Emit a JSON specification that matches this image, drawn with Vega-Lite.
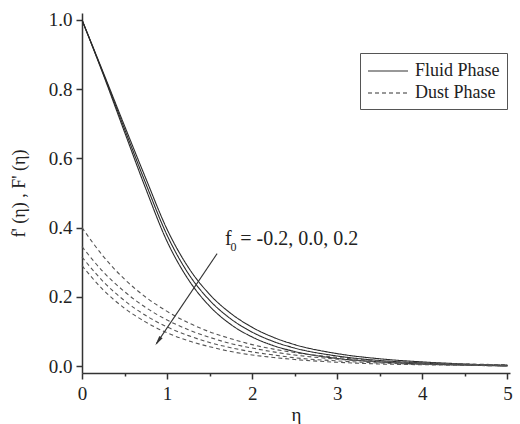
{
  "$schema": "https://vega.github.io/schema/vega-lite/v6.json",
  "width": 428,
  "height": 360,
  "autosize": {"type": "none"},
  "padding": {"left": 82, "top": 13, "right": 10, "bottom": 51},
  "background": "white",
  "config": {
    "font": "Liberation Serif",
    "axis": {"labelFont": "Liberation Serif", "titleFont": "Liberation Serif"},
    "legend": {"labelFont": "Liberation Serif", "titleFont": "Liberation Serif"},
    "text": {"font": "Liberation Serif"},
    "view": {"stroke": null},
    "line": {"color": "#2a2a2a", "strokeWidth": 1.1, "interpolate": "monotone"}
  },
  "datasets": {
    "curves": [
      {"eta": 0, "F1": 1.0, "F2": 1.0, "F3": 1.0, "D1": 0.4, "D2": 0.345, "D3": 0.315, "D4": 0.29},
      {"eta": 0.25, "F1": 0.848, "F2": 0.845, "F3": 0.842, "D1": 0.317, "D2": 0.272, "D3": 0.244, "D4": 0.22},
      {"eta": 0.5, "F1": 0.694, "F2": 0.685, "F3": 0.676, "D1": 0.251, "D2": 0.215, "D3": 0.189, "D4": 0.167},
      {"eta": 0.75, "F1": 0.542, "F2": 0.527, "F3": 0.512, "D1": 0.199, "D2": 0.169, "D3": 0.146, "D4": 0.127},
      {"eta": 1.0, "F1": 0.395, "F2": 0.378, "F3": 0.36, "D1": 0.158, "D2": 0.133, "D3": 0.113, "D4": 0.096},
      {"eta": 1.25, "F1": 0.285, "F2": 0.267, "F3": 0.25, "D1": 0.125, "D2": 0.105, "D3": 0.088, "D4": 0.073},
      {"eta": 1.5, "F1": 0.207, "F2": 0.19, "F3": 0.173, "D1": 0.099, "D2": 0.083, "D3": 0.068, "D4": 0.056},
      {"eta": 1.75, "F1": 0.152, "F2": 0.136, "F3": 0.12, "D1": 0.079, "D2": 0.065, "D3": 0.053, "D4": 0.042},
      {"eta": 2.0, "F1": 0.112, "F2": 0.098, "F3": 0.084, "D1": 0.062, "D2": 0.052, "D3": 0.041, "D4": 0.032},
      {"eta": 2.25, "F1": 0.083, "F2": 0.071, "F3": 0.059, "D1": 0.049, "D2": 0.041, "D3": 0.032, "D4": 0.025},
      {"eta": 2.5, "F1": 0.062, "F2": 0.052, "F3": 0.042, "D1": 0.039, "D2": 0.032, "D3": 0.024, "D4": 0.019},
      {"eta": 3.0, "F1": 0.036, "F2": 0.029, "F3": 0.022, "D1": 0.025, "D2": 0.02, "D3": 0.015, "D4": 0.011},
      {"eta": 3.5, "F1": 0.021, "F2": 0.016, "F3": 0.012, "D1": 0.015, "D2": 0.012, "D3": 0.009, "D4": 0.006},
      {"eta": 4.0, "F1": 0.012, "F2": 0.009, "F3": 0.006, "D1": 0.01, "D2": 0.008, "D3": 0.005, "D4": 0.004},
      {"eta": 4.5, "F1": 0.006, "F2": 0.004, "F3": 0.003, "D1": 0.006, "D2": 0.005, "D3": 0.003, "D4": 0.002},
      {"eta": 5.0, "F1": 0.002, "F2": 0.001, "F3": 0.0, "D1": 0.004, "D2": 0.003, "D3": 0.002, "D4": 0.001}
    ]
  },
  "layer": [
    {
      "data": {"name": "curves"},
      "transform": [{"fold": ["F1", "F2", "F3"], "as": ["curve", "val"]}],
      "mark": {"type": "line"},
      "encoding": {
        "x": {
          "field": "eta", "type": "quantitative",
          "scale": {"domain": [0, 5.03], "nice": false, "zero": false},
          "axis": {
            "title": "η", "titleFont": "Liberation Serif", "titleFontSize": 19, "titleFontWeight": "normal", "titleColor": "#222", "titlePadding": 2,
            "values": [0, 0.5, 1, 1.5, 2, 2.5, 3, 3.5, 4, 4.5, 5],
            "labelExpr": "datum.value % 1 === 0 ? format(datum.value, 'd') : ''",
            "labelFont": "Liberation Serif", "labelFontSize": 19, "labelColor": "#222", "labelPadding": 5, "labelFlush": false, "labelOverlap": false,
            "grid": false, "domainColor": "#333", "domainWidth": 1.5,
            "tickColor": "#333", "tickWidth": 1.5,
            "tickSize": {"condition": {"test": "datum.value % 1 === 0", "value": 6}, "value": 3}
          }
        },
        "y": {
          "field": "val", "type": "quantitative",
          "scale": {"domain": [-0.02, 1.02], "nice": false, "zero": false},
          "axis": {
            "title": "f' (η) , F' (η)", "titleFont": "Liberation Serif", "titleFontSize": 18, "titleFontWeight": "normal", "titleColor": "#222", "titlePadding": 20,
            "values": [0, 0.1, 0.2, 0.3, 0.4, 0.5, 0.6, 0.7, 0.8, 0.9, 1.0],
            "labelExpr": "abs(round(datum.value * 5) - datum.value * 5) < 0.001 ? format(datum.value, '.1f') : ''",
            "labelFont": "Liberation Serif", "labelFontSize": 19, "labelColor": "#222", "labelPadding": 4, "labelFlush": false, "labelOverlap": false,
            "grid": false, "domainColor": "#333", "domainWidth": 1.5,
            "tickColor": "#333", "tickWidth": 1.5,
            "tickSize": {"condition": {"test": "abs(round(datum.value * 5) - datum.value * 5) < 0.001", "value": 6}, "value": 3}
          }
        },
        "detail": {"field": "curve"},
        "strokeDash": {
          "datum": "Fluid Phase",
          "scale": {"domain": ["Fluid Phase", "Dust Phase"], "range": [[1, 0], [4, 3]]},
          "legend": {
            "title": null, "orient": "none", "legendX": 278, "legendY": 40,
            "strokeColor": "#555", "fillColor": "white", "padding": 7,
            "symbolType": "M-2,0L2,0", "symbolSize": 400, "symbolStrokeWidth": 1.1, "symbolStrokeColor": "#333", "symbolOffset": 10,
            "labelFont": "Liberation Serif", "labelFontSize": 18, "labelColor": "#222", "labelOffset": 16, "rowPadding": 2
          }
        }
      }
    },
    {
      "data": {"name": "curves"},
      "transform": [{"fold": ["D1", "D2", "D3", "D4"], "as": ["curve", "val"]}],
      "mark": {"type": "line", "color": "#555"},
      "encoding": {
        "x": {"field": "eta", "type": "quantitative"},
        "y": {"field": "val", "type": "quantitative"},
        "detail": {"field": "curve"},
        "strokeDash": {"datum": "Dust Phase"}
      }
    },
    {
      "data": {"values": [{"x1": 1.588, "y1": 0.325, "x2": 0.875, "y2": 0.065}]},
      "mark": {"type": "rule", "color": "#333", "strokeWidth": 1.1},
      "encoding": {
        "x": {"field": "x1", "type": "quantitative"},
        "y": {"field": "y1", "type": "quantitative"},
        "x2": {"field": "x2"},
        "y2": {"field": "y2"}
      }
    },
    {
      "data": {"values": [{"x": 0.895, "y": 0.072}]},
      "mark": {"type": "point", "shape": "M0,1L-0.4,-1L0.4,-1Z", "filled": true, "color": "#333", "size": 100, "angle": 34, "opacity": 1},
      "encoding": {
        "x": {"field": "x", "type": "quantitative"},
        "y": {"field": "y", "type": "quantitative"}
      }
    },
    {
      "data": {"values": [{"x": 1.68, "y": 0.35, "t": "f"}]},
      "mark": {"type": "text", "font": "Liberation Serif", "align": "left", "baseline": "alphabetic", "fontSize": 20, "color": "#222"},
      "encoding": {
        "x": {"field": "x", "type": "quantitative"},
        "y": {"field": "y", "type": "quantitative"},
        "text": {"field": "t"}
      }
    },
    {
      "data": {"values": [{"x": 1.745, "y": 0.332, "t": "0"}]},
      "mark": {"type": "text", "font": "Liberation Serif", "align": "left", "baseline": "alphabetic", "fontSize": 12, "color": "#222"},
      "encoding": {
        "x": {"field": "x", "type": "quantitative"},
        "y": {"field": "y", "type": "quantitative"},
        "text": {"field": "t"}
      }
    },
    {
      "data": {"values": [{"x": 1.86, "y": 0.35, "t": "= -0.2, 0.0, 0.2"}]},
      "mark": {"type": "text", "font": "Liberation Serif", "align": "left", "baseline": "alphabetic", "fontSize": 20, "color": "#222"},
      "encoding": {
        "x": {"field": "x", "type": "quantitative"},
        "y": {"field": "y", "type": "quantitative"},
        "text": {"field": "t"}
      }
    }
  ]
}
